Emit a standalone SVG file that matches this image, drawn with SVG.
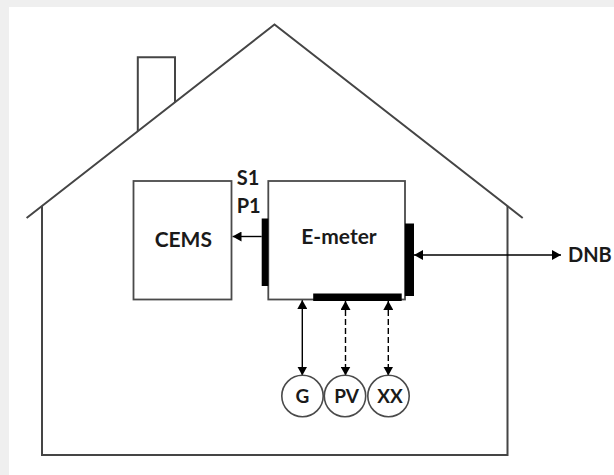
<svg xmlns="http://www.w3.org/2000/svg" width="614" height="475" viewBox="0 0 614 475">
  <defs>
    <style>
      .house { fill: none; stroke: #454545; stroke-width: 2; stroke-linejoin: miter; }
      .box { fill: #ffffff; stroke: #4a4a4a; stroke-width: 1.8; }
      .bar { fill: #000000; }
      .lbl { font-family: Lato, "Liberation Sans", Arial, sans-serif; font-weight: 700; fill: #1a1a1a; }
      .mid { text-anchor: middle; }
      .conn { fill: none; stroke: #000000; stroke-width: 1.4; }
      .dash { stroke-dasharray: 6 3; }
      .circ { fill: #ffffff; stroke: #4a4a4a; stroke-width: 1.6; }
    </style>
    <marker id="ah" viewBox="0 0 10 10" refX="10" refY="5" markerWidth="9" markerHeight="10" markerUnits="userSpaceOnUse" orient="auto-start-reverse" preserveAspectRatio="none">
      <path d="M0,0 L10,5 L0,10 z" fill="#000000"/>
    </marker>
  </defs>

  <rect x="0" y="0" width="614" height="475" fill="#efefef"/>
  <rect x="9" y="7" width="605" height="468" fill="#ffffff"/>

  <g id="house">
    <path class="house" d="M26.6,218 L274.5,24.5 L522.7,218"/>
    <path class="house" d="M42,206 V455 H507.5 V206"/>
    <path class="house" d="M137.8,131 V57.3 H175 V102.2"/>
  </g>

  <g id="connectors">
    <line class="conn" x1="261.7" y1="236.5" x2="232.5" y2="236.5" marker-end="url(#ah)"/>
    <line class="conn" x1="414" y1="255" x2="561" y2="255" marker-start="url(#ah)" marker-end="url(#ah)"/>
    <line class="conn" x1="302.3" y1="300" x2="302.3" y2="375.5" marker-start="url(#ah)" marker-end="url(#ah)"/>
    <line class="conn dash" x1="345.5" y1="301" x2="345.5" y2="375.5" marker-start="url(#ah)" marker-end="url(#ah)"/>
    <line class="conn dash" x1="388.3" y1="301" x2="388.3" y2="375.5" marker-start="url(#ah)" marker-end="url(#ah)"/>
  </g>

  <g id="cems">
    <rect class="box" x="133.5" y="181" width="98" height="118.5"/>
    <text class="lbl mid" x="183.3" y="246.5" font-size="21">CEMS</text>
  </g>

  <g id="emeter">
    <rect class="box" x="268.3" y="181" width="136.7" height="118.5"/>
    <rect class="bar" x="261.7" y="218.5" width="6.6" height="67.5"/>
    <rect class="bar" x="405" y="223.5" width="9" height="72.5"/>
    <rect class="bar" x="313.2" y="293.5" width="88.5" height="7.5"/>
    <text class="lbl mid" x="339" y="244" font-size="21">E-meter</text>
  </g>

  <g id="port-labels">
    <text class="lbl" x="236.7" y="185" font-size="20">S1</text>
    <text class="lbl" x="236.7" y="212.7" font-size="20">P1</text>
  </g>

  <g id="dnb">
    <text class="lbl" x="568" y="261.5" font-size="20">DNB</text>
  </g>

  <g id="g">
    <circle class="circ" cx="302.5" cy="396" r="20.7"/>
    <text class="lbl mid" x="302.5" y="402.5" font-size="19">G</text>
  </g>
  <g id="pv">
    <circle class="circ" cx="345" cy="396" r="20.7"/>
    <text class="lbl mid" x="346.5" y="402.5" font-size="19">PV</text>
  </g>
  <g id="xx">
    <circle class="circ" cx="388.5" cy="396" r="20.7"/>
    <text class="lbl mid" x="390" y="402.5" font-size="19">XX</text>
  </g>
</svg>
